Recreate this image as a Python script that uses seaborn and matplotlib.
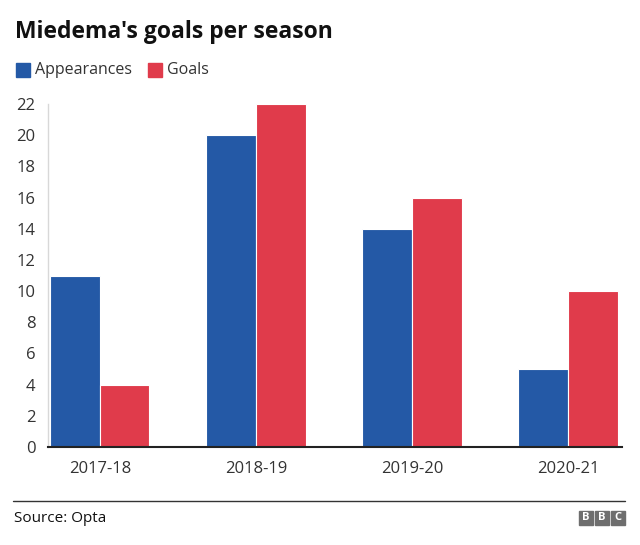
import pandas as pd
import matplotlib.pyplot as plt
import seaborn as sns
from matplotlib.patches import Rectangle

# --- datos ---
temporadas = ['2017-18', '2018-19', '2019-20', '2020-21']
partidos = [11, 20, 14, 5]
goles = [4, 22, 16, 10]
series = ['Appearances', 'Goals']
colores = ['#2459a6', '#e03b4b']

df = pd.DataFrame({
    'season': temporadas * 2,
    'value': partidos + goles,
    'metric': [series[0]] * len(temporadas) + [series[1]] * len(temporadas),
})

sns.set_theme(style="white")
plt.rcParams['font.family'] = ['Open Sans', 'DejaVu Sans']

fig = plt.figure(figsize=(6.4, 5.45), dpi=100)
ax = fig.add_axes([48 / 640, 1 - 447 / 545, 574 / 640, 343 / 545])

sns.barplot(data=df, x='season', y='value', hue='metric', palette=colores,
            saturation=1, width=0.635, edgecolor='white', linewidth=0.8,
            ax=ax, legend=False)

ax.set_xlim(-0.333, 3.346)
ax.set_ylim(0, 22)
ax.set_yticks(range(0, 23, 2))
ax.set_xlabel('')
ax.set_ylabel('')
ax.tick_params(axis='both', length=0, labelsize=12, colors='#333333')
ax.tick_params(axis='y', pad=9)
ax.tick_params(axis='x', pad=10)
for s in ['top', 'right']:
    ax.spines[s].set_visible(False)
ax.spines['left'].set_color('#d8d8d8')
ax.spines['left'].set_linewidth(1)
ax.spines['bottom'].set_color('#222222')
ax.spines['bottom'].set_linewidth(1.5)

# --- titulo y leyenda ---
fig.text(15 / 640, 1 - 32 / 545, "Miedema's goals per season", fontsize=16.5,
         fontweight='bold', color='#111111', va='center', ha='left')
x0 = 16
for nombre, color, ancho in zip(series, colores, [122, 60]):
    fig.patches.append(Rectangle((x0 / 640, 1 - 77 / 545), 14 / 640, 14 / 545,
                                 transform=fig.transFigure, color=color))
    fig.text((x0 + 19) / 640, 1 - 70 / 545, nombre, fontsize=11.5, color='#333333',
             va='center', ha='left')
    x0 += ancho + 10

# --- pie ---
fig.add_artist(plt.Line2D([13 / 640, 625 / 640], [1 - 501 / 545, 1 - 501 / 545],
                          transform=fig.transFigure, color='#333333', linewidth=1))
fig.text(14 / 640, 1 - 518 / 545, 'Source: Opta', fontsize=11, color='#111111',
         va='center', ha='left')
for i, letra in enumerate('BBC'):
    lx = 579 + i * 16
    fig.patches.append(Rectangle((lx / 640, 1 - 525 / 545), 14 / 640, 14 / 545,
                                 transform=fig.transFigure, color='#6e6e6e'))
    fig.text((lx + 7) / 640, 1 - 518 / 545, letra, fontsize=8, fontweight='bold',
             color='white', va='center', ha='center')

plt.savefig('out.png', dpi=100)
